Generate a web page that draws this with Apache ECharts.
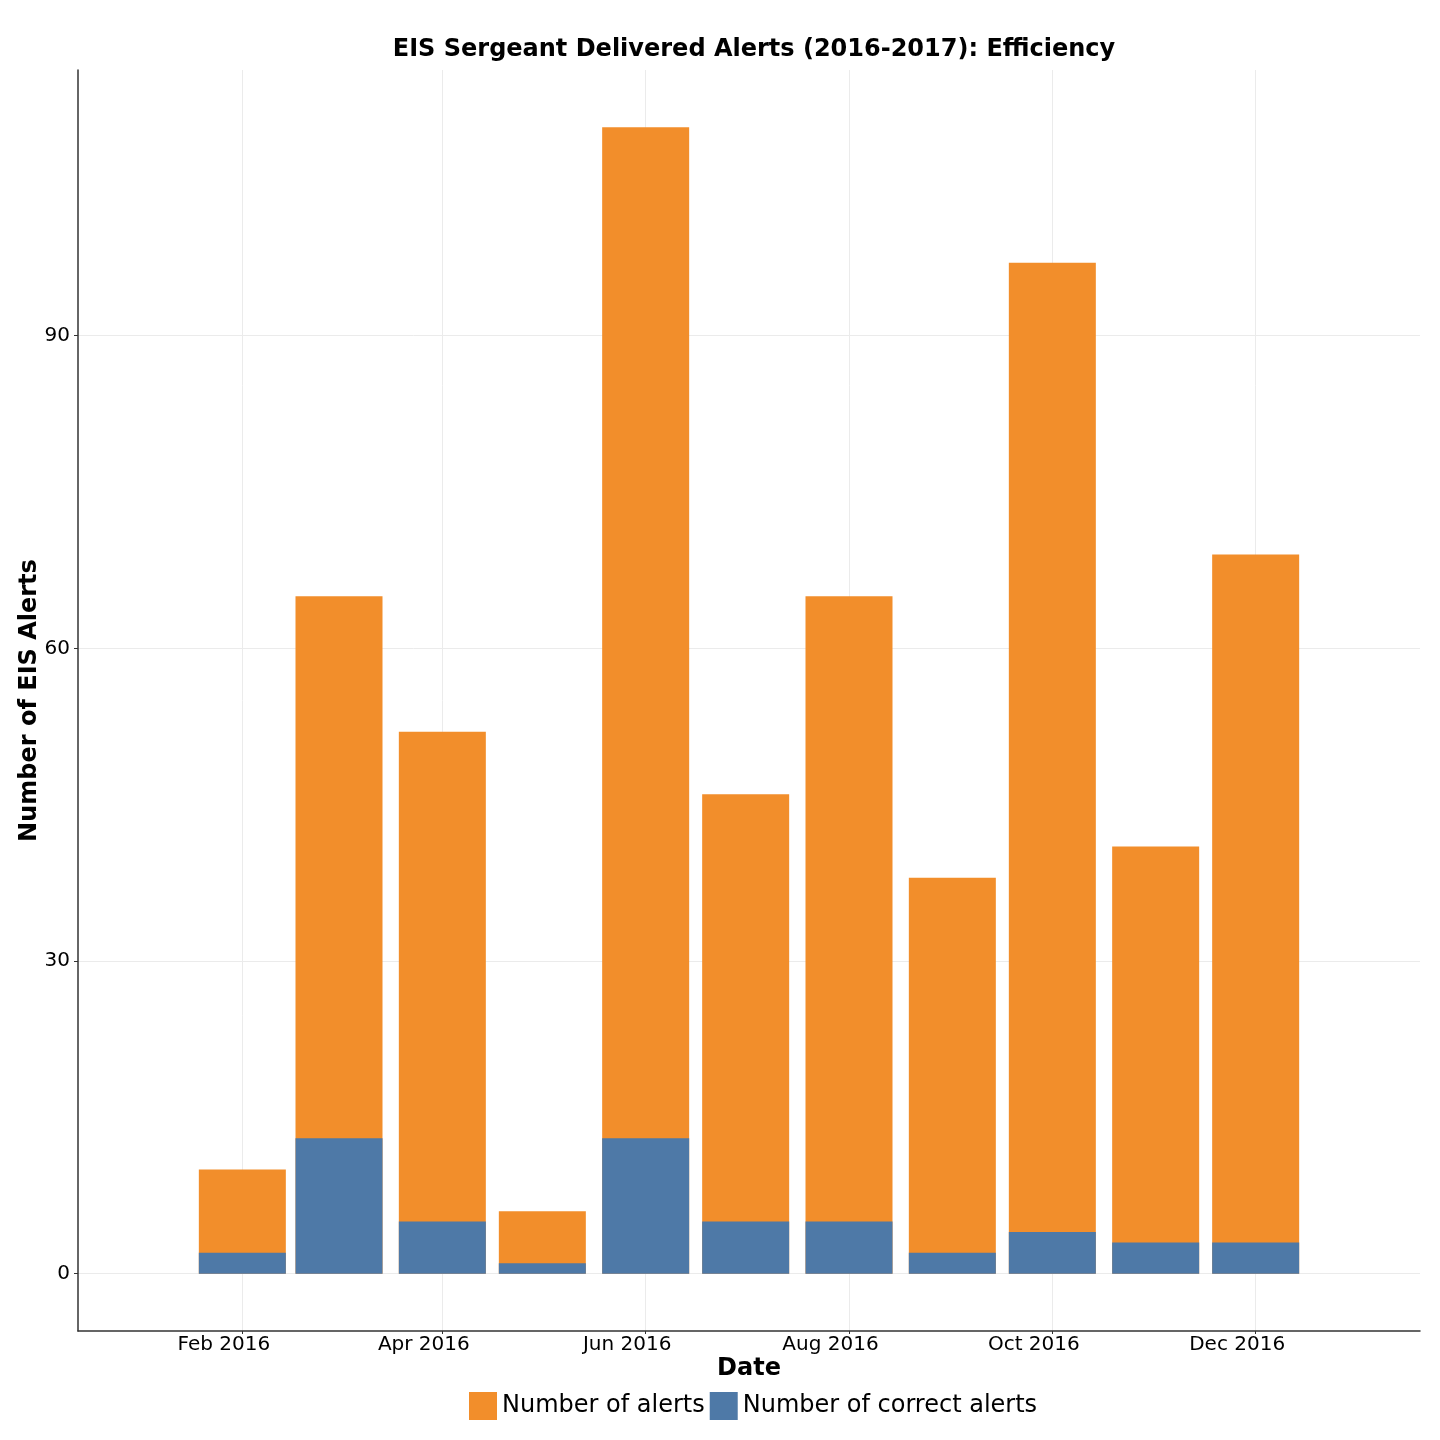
<!DOCTYPE html>
<html>
<head>
<meta charset="utf-8">
<script src="https://cdn.jsdelivr.net/npm/echarts@6/dist/echarts.min.js"></script>
<style>
  html, body { margin: 0; padding: 0; background: #ffffff; }
  #chart { width: 1440px; height: 1440px; }
</style>
</head>
<body>
<div id="chart"></div>
<script>
// ---- data ----
const months = ['2016-02-01', '2016-03-01', '2016-04-01', '2016-05-01', '2016-06-01', '2016-07-01',
                '2016-08-01', '2016-09-01', '2016-10-01', '2016-11-01', '2016-12-01'];
const alertCounts = [10, 65, 52, 6, 110, 46, 65, 38, 97, 41, 69];
const correctCounts = [2, 13, 5, 1, 13, 5, 5, 2, 4, 3, 3];
const xTickDates = ['2016-02-01', '2016-04-01', '2016-06-01', '2016-08-01', '2016-10-01', '2016-12-01'];
const yTicks = [0, 30, 60, 90];
const monthNames = ['Jan', 'Feb', 'Mar', 'Apr', 'May', 'Jun', 'Jul', 'Aug', 'Sep', 'Oct', 'Nov', 'Dec'];
const rangeStart = '2016-01-01';
const rangeEnd = '2017-01-01';

// ---- helpers ----
const DAY = 86400000;
// x values are expressed in days since 1970-01-01 (UTC)
const dayNum = s => new Date(s + 'T00:00:00Z').getTime() / DAY;
const span = dayNum(rangeEnd) - dayNum(rangeStart);
const xMin = dayNum(rangeStart) - 0.05 * span;
const xMax = dayNum(rangeEnd) + 0.05 * span;
const yMin = -5.5, yMax = 115.5;

const FONT = 'DejaVu Sans';
const chart = echarts.init(document.getElementById('chart'), null, { renderer: 'canvas' });

const option = {
  backgroundColor: '#ffffff',
  animation: false,
  title: {
    text: 'EIS Sergeant Delivered Alerts (2016-2017): Efficiency',
    left: 749,
    top: 33,
    textAlign: 'center',
    textStyle: { fontFamily: FONT, fontWeight: 'bold', fontSize: 24, color: '#000' }
  },
  legend: {
    top: 1392,
    left: 469,
    padding: 0,
    itemWidth: 28,
    itemHeight: 28,
    itemGap: 5,
    icon: 'rect',
    textStyle: { fontFamily: FONT, fontSize: 24, color: '#000', padding: [4, 0, 0, 0] },
    data: ['Number of alerts', 'Number of correct alerts']
  },
  grid: { left: 78, right: 20, top: 70, bottom: 109, containLabel: false },
  xAxis: {
    type: 'value',
    min: xMin,
    max: xMax,
    name: 'Date',
    nameLocation: 'middle',
    nameGap: 26,
    nameMoveOverlap: false,
    nameTextStyle: { fontFamily: FONT, fontWeight: 'bold', fontSize: 24, color: '#000' },
    axisLine: { show: true, onZero: false, lineStyle: { color: '#333', width: 1.5 } },
    axisTick: { show: true, length: 3, lineStyle: { color: '#333' }, customValues: xTickDates.map(dayNum) },
    axisLabel: {
      customValues: xTickDates.map(dayNum),
      fontFamily: FONT, fontSize: 20, color: '#000', margin: 4,
      padding: [0, 37, 0, 0],
      formatter: v => { const d = new Date(v * DAY); return monthNames[d.getUTCMonth()] + ' ' + d.getUTCFullYear(); }
    },
    splitLine: { show: true, lineStyle: { color: '#ebebeb', width: 1 } }
  },
  yAxis: {
    type: 'value',
    min: yMin,
    max: yMax,
    name: 'Number of EIS Alerts',
    nameLocation: 'middle',
    nameGap: 36,
    nameMoveOverlap: false,
    nameTextStyle: { fontFamily: FONT, fontWeight: 'bold', fontSize: 24, color: '#000' },
    axisLine: { show: true, onZero: false, lineStyle: { color: '#333', width: 1.5 } },
    axisTick: { show: true, length: 4, lineStyle: { color: '#333' }, customValues: yTicks },
    axisLabel: { customValues: yTicks, fontFamily: FONT, fontSize: 20, color: '#000', margin: 8 },
    splitLine: { show: true, lineStyle: { color: '#ebebeb', width: 1 } }
  },
  series: [
    {
      name: 'Number of alerts',
      type: 'bar',
      barWidth: 87,
      barGap: '-100%',
      itemStyle: { color: '#F28E2B' },
      data: months.map((m, i) => [dayNum(m), alertCounts[i]])
    },
    {
      name: 'Number of correct alerts',
      type: 'bar',
      barWidth: 87,
      barGap: '-100%',
      itemStyle: { color: '#4E79A7' },
      data: months.map((m, i) => [dayNum(m), correctCounts[i]])
    }
  ]
};
chart.setOption(option);
</script>
</body>
</html>
